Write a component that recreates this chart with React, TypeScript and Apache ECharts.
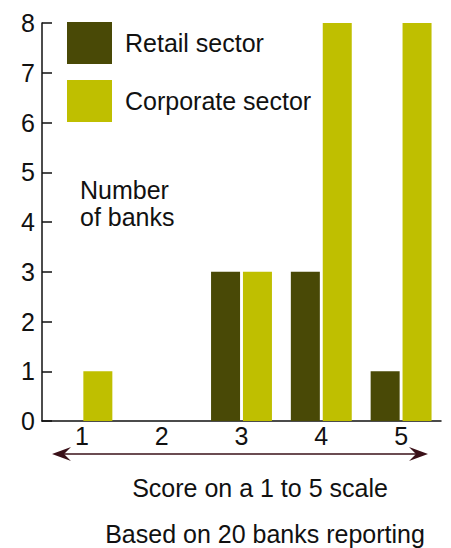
import React, { useEffect, useRef } from "react";
import * as echarts from "echarts";

const scores = ["1", "2", "3", "4", "5"];
const retailBanks = [0, 0, 3, 3, 1];
const corporateBanks = [1, 0, 3, 8, 8];
const yTicks = { min: 0, max: 8, interval: 1 };

const RETAIL = "#494906";
const CORPORATE = "#bfbf00";
const ARROW = "#3a1018";
const FONT = "'Liberation Sans', Arial, Helvetica, sans-serif";
const FS = 25;

export default function App() {
  const ref = useRef<HTMLDivElement>(null);

  useEffect(() => {
    if (!ref.current) return;
    const chart = echarts.init(ref.current, undefined, { renderer: "svg" });
    chart.setOption({
      animation: false,
      textStyle: { fontFamily: FONT, color: "#111" },
      grid: { left: 42, right: 10, top: 23, bottom: 127, containLabel: false },
      legend: {
        orient: "vertical",
        left: 67,
        top: 22,
        padding: 0,
        itemWidth: 45,
        itemHeight: 42,
        itemGap: 16,
        icon: "rect",
        selectedMode: false,
        textStyle: { fontSize: FS, fontFamily: FONT, color: "#111", padding: [0, 0, 0, 8] },
        data: ["Retail sector", "Corporate sector"],
      },
      xAxis: {
        type: "category",
        data: scores,
        boundaryGap: true,
        axisLine: { lineStyle: { color: "#111", width: 1.5 } },
        axisTick: { inside: true, length: 10, lineStyle: { color: "#111", width: 1.5 } },
        axisLabel: { fontSize: FS, color: "#111", margin: 2, fontFamily: FONT },
      },
      yAxis: {
        type: "value",
        min: yTicks.min,
        max: yTicks.max,
        interval: yTicks.interval,
        splitLine: { show: false },
        axisLine: { show: true, lineStyle: { color: "#111", width: 1.5 } },
        axisTick: { show: true, inside: true, length: 10, lineStyle: { color: "#111", width: 1.5 } },
        axisLabel: { fontSize: FS, color: "#111", margin: 7, fontFamily: FONT },
      },
      series: [
        {
          name: "Retail sector",
          type: "bar",
          data: retailBanks,
          barWidth: 29,
          barGap: "10%",
          itemStyle: { color: RETAIL },
        },
        {
          name: "Corporate sector",
          type: "bar",
          data: corporateBanks,
          barWidth: 29,
          barGap: "10%",
          itemStyle: { color: CORPORATE },
        },
      ],
      graphic: [
        {
          type: "text",
          left: 80,
          top: 176,
          style: {
            text: "Number\nof banks",
            fontSize: FS,
            lineHeight: 27,
            fontFamily: FONT,
            fill: "#111",
          },
        },
        {
          type: "line",
          shape: { x1: 60, y1: 454, x2: 420, y2: 454 },
          style: { stroke: ARROW, lineWidth: 1.5 },
        },
        {
          type: "polygon",
          shape: { points: [[52, 454], [71, 447], [64, 454], [71, 461]] },
          style: { fill: ARROW },
        },
        {
          type: "polygon",
          shape: { points: [[428, 454], [409, 447], [416, 454], [409, 461]] },
          style: { fill: ARROW },
        },
        {
          type: "text",
          x: 260,
          y: 488,
          style: {
            text: "Score on a 1 to 5 scale",
            fontSize: FS,
            fontFamily: FONT,
            fill: "#111",
            align: "center",
            verticalAlign: "middle",
          },
        },
        {
          type: "text",
          x: 265,
          y: 534,
          style: {
            text: "Based on 20 banks reporting",
            fontSize: FS,
            fontFamily: FONT,
            fill: "#111",
            align: "center",
            verticalAlign: "middle",
          },
        },
      ],
    });
    return () => chart.dispose();
  }, []);

  return (
    <div
      ref={ref}
      style={{ position: "fixed", left: 0, top: 0, width: 451, height: 548, background: "#fff" }}
    />
  );
}
